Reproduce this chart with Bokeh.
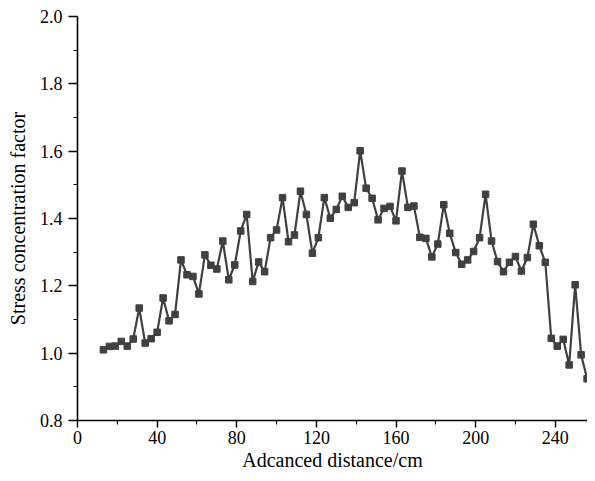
from bokeh.plotting import figure
from bokeh.models import Range1d, FixedTicker, PrintfTickFormatter
from bokeh.embed import file_html
from bokeh.resources import INLINE

distance = [13, 16, 19, 22, 25, 28, 31, 34, 37, 40,
            43, 46, 49, 52, 55, 58, 61, 64, 67, 70,
            73, 76, 79, 82, 85, 88, 91, 94, 97, 100,
            103, 106, 109, 112, 115, 118, 121, 124, 127, 130,
            133, 136, 139, 142, 145, 148, 151, 154, 157, 160,
            163, 166, 169, 172, 175, 178, 181, 184, 187, 190,
            193, 196, 199, 202, 205, 208, 211, 214, 217, 220,
            223, 226, 229, 232, 235, 238, 241, 244, 247, 250,
            253, 256]
factor = [1.010, 1.020, 1.021, 1.035, 1.021, 1.042, 1.134, 1.030, 1.043, 1.062,
          1.164, 1.096, 1.115, 1.277, 1.233, 1.228, 1.176, 1.292, 1.261, 1.250,
          1.333, 1.218, 1.262, 1.363, 1.412, 1.213, 1.271, 1.242, 1.343, 1.366,
          1.462, 1.331, 1.351, 1.481, 1.412, 1.297, 1.343, 1.462, 1.401, 1.427,
          1.466, 1.433, 1.447, 1.601, 1.490, 1.460, 1.396, 1.430, 1.436, 1.393,
          1.541, 1.433, 1.437, 1.344, 1.341, 1.286, 1.324, 1.441, 1.356, 1.299,
          1.264, 1.277, 1.302, 1.343, 1.472, 1.333, 1.272, 1.242, 1.270, 1.287,
          1.244, 1.284, 1.383, 1.319, 1.270, 1.044, 1.021, 1.041, 0.965, 1.203,
          0.995, 0.924]

x_ticks = [0, 40, 80, 120, 160, 200, 240]
x_minor = [20, 60, 100, 140, 180, 220]
y_ticks = [0.8, 1.0, 1.2, 1.4, 1.6, 1.8, 2.0]
y_minor = [0.9, 1.1, 1.3, 1.5, 1.7, 1.9]

p = figure(width=587, height=473, output_backend="svg", toolbar_location=None,
           x_range=Range1d(0, 256.2), y_range=Range1d(0.8, 2.0),
           min_border_left=77, min_border_top=16, min_border_right=0, min_border_bottom=53)
p.outline_line_color = None
p.grid.visible = False
p.background_fill_color = "white"
p.border_fill_color = "white"

col = "#404040"
p.line(distance, factor, line_color=col, line_width=2.2)
p.scatter(distance, factor, marker="square", size=6.5, fill_color=col, line_color=col)

font = "Liberation Serif"
for ax in (p.xaxis[0], p.yaxis[0]):
    ax.axis_line_color = "black"
    ax.axis_line_width = 1.6
    ax.major_tick_line_color = "black"
    ax.major_tick_line_width = 1.4
    ax.minor_tick_line_color = "black"
    ax.minor_tick_line_width = 1.2
    ax.major_tick_in = 0
    ax.minor_tick_out = 4
    ax.minor_tick_in = 0
    ax.major_label_text_font = font
    ax.major_label_text_font_size = "18px"
    ax.major_label_text_color = "black"
    ax.axis_label_text_font = font
    ax.axis_label_text_font_size = "20px"
    ax.axis_label_text_font_style = "normal"
    ax.axis_label_text_color = "black"

p.xaxis.major_tick_out = 7
p.yaxis.major_tick_out = 9
p.xaxis.ticker = FixedTicker(ticks=x_ticks, minor_ticks=x_minor)
p.yaxis.ticker = FixedTicker(ticks=y_ticks, minor_ticks=y_minor)
p.yaxis.formatter = PrintfTickFormatter(format="%.1f")
p.xaxis.axis_label = "Adcanced distance/cm"
p.yaxis.axis_label = "Stress concentration factor"
p.xaxis.major_label_standoff = 3
p.yaxis.major_label_standoff = 6
p.xaxis.axis_label_standoff = 2
p.yaxis.axis_label_standoff = 8

open("out.html", "w").write(file_html(p, INLINE))
